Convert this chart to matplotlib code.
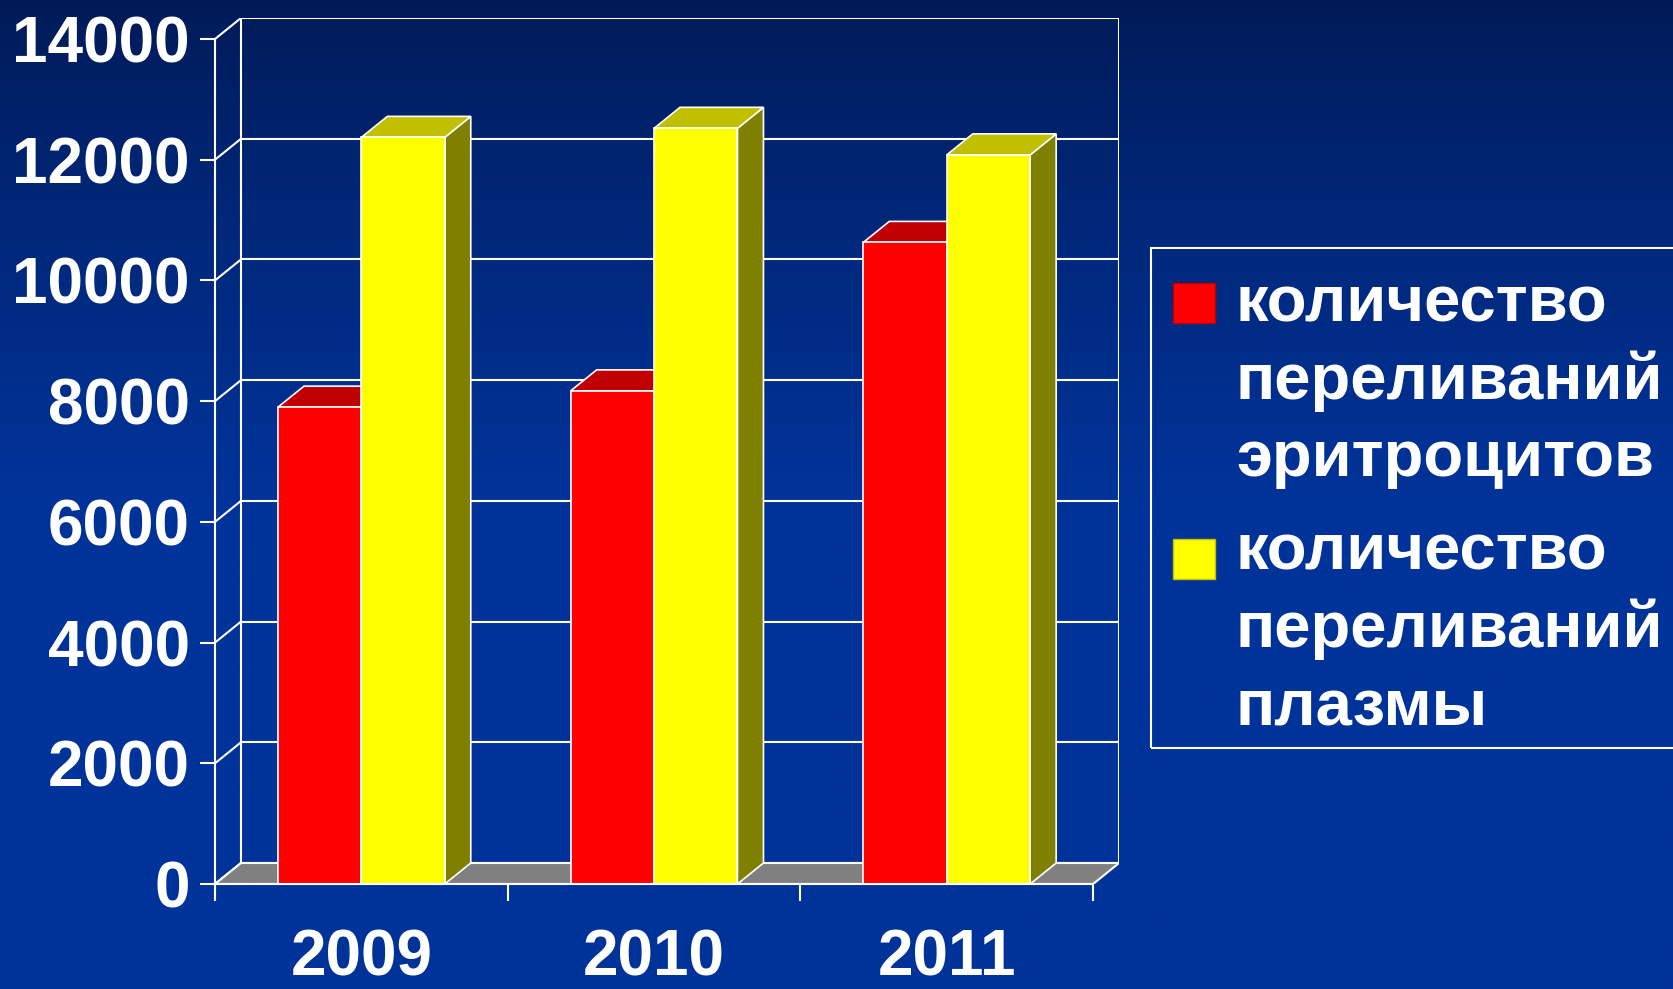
import numpy as np
import matplotlib
matplotlib.use("Agg")
import matplotlib.pyplot as plt
from matplotlib.patches import Polygon, Rectangle

plt.rcParams['font.family'] = ['Liberation Sans', 'DejaVu Sans']
plt.rcParams['font.weight'] = 'bold'

# data
years = ["2009", "2010", "2011"]
erythrocytes = [7900, 8170, 10630]
plasma = [12370, 12520, 12080]
series_labels = ["количество\nпереливаний\nэритроцитов",
                 "количество\nпереливаний\nплазмы"]
y_ticks = [0, 2000, 4000, 6000, 8000, 10000, 12000, 14000]

# colours: front, top, side
RED = ("#ff0000", "#c00000", "#800000")
YELLOW = ("#ffff00", "#c0c000", "#808000")
FLOOR = "#808080"
LINE = "white"

W, H = 1674, 989
fig = plt.figure(figsize=(W / 100, H / 100), dpi=100)

# background gradient
bg = fig.add_axes([0, 0, 1, 1], zorder=-10)
rows = np.linspace(0, 1, 400)
top = np.array([0, 26, 85]) / 255
bot = np.array([0, 51, 153]) / 255
t = np.clip(rows / 0.5, 0, 1) ** 0.8
grad = top[None, :] * (1 - t[:, None]) + bot[None, :] * t[:, None]
bg.imshow(grad[:, None, :], aspect='auto', extent=[0, 1, 0, 1], origin='upper')
bg.axis('off')

# 3D depth offset of the plot box (data units)
dx = 26 / 292.7
dy = 21 / 60.35 * 1000
ymax = 14000

ax = fig.add_axes([215 / W, (H - 884) / H, (292.7 * 3 + 26) / W, 866 / H])
ax.set_facecolor('none')
ax.set_xlim(0, 3 + dx)
ax.set_ylim(0, ymax + dy)

lw = 1.5
# floor
ax.add_patch(Polygon([(0, 0), (3, 0), (3 + dx, dy), (dx, dy)], closed=True,
                     facecolor=FLOOR, edgecolor=LINE, lw=lw, zorder=1))
# back wall gridlines and connectors to the front axis
for v in y_ticks:
    ax.plot([dx, 3 + dx], [v + dy, v + dy], color=LINE, lw=lw, zorder=0.5)
    ax.plot([0, dx], [v, v + dy], color=LINE, lw=lw, zorder=0.5,
            solid_capstyle='butt')
ax.plot([dx, dx], [dy, ymax + dy], color=LINE, lw=lw, zorder=0.5)
ax.plot([3 + dx, 3 + dx], [dy, ymax + dy], color=LINE, lw=lw, zorder=0.5)

# bars with top and side faces
width = 0.285
x = np.arange(len(years)) + 0.5


def box(x0, h, colors, z):
    front, topc, side = colors
    ax.add_patch(Polygon([(x0 + width, 0), (x0 + width + dx, dy),
                          (x0 + width + dx, h + dy), (x0 + width, h)],
                         closed=True, facecolor=side, edgecolor=LINE,
                         lw=1.2, zorder=z))
    ax.add_patch(Polygon([(x0, h), (x0 + width, h), (x0 + width + dx, h + dy),
                          (x0 + dx, h + dy)], closed=True, facecolor=topc,
                         edgecolor=LINE, lw=1.2, zorder=z))


for i in range(len(years)):
    box(x[i] - width, erythrocytes[i], RED, 2)
    box(x[i], plasma[i], YELLOW, 3)
ax.bar(x - width, erythrocytes, width, align='edge', color=RED[0],
       edgecolor=LINE, lw=1.2, zorder=2.5)
ax.bar(x, plasma, width, align='edge', color=YELLOW[0],
       edgecolor=LINE, lw=1.2, zorder=3.5)

# front axes
for s in ['top', 'right']:
    ax.spines[s].set_visible(False)
ax.spines['left'].set_bounds(0, ymax)
ax.spines['bottom'].set_bounds(0, 3)
for s in ['left', 'bottom']:
    ax.spines[s].set_color(LINE)
    ax.spines[s].set_linewidth(lw)
    ax.spines[s].set_zorder(5)

ax.set_yticks(y_ticks)
ax.set_yticklabels([str(v) for v in y_ticks])
ax.tick_params(axis='y', direction='out', length=11, width=lw, color=LINE,
               labelcolor='white', labelsize=46, pad=7)
ax.set_xticks([0, 1, 2, 3])
ax.set_xticklabels([])
ax.set_xticks(x, minor=True)
ax.set_xticklabels(years, minor=True)
ax.tick_params(axis='x', which='major', direction='out', length=12,
               width=lw, color=LINE)
ax.tick_params(axis='x', which='minor', length=0, labelcolor='white',
               labelsize=46, pad=32)

# legend
fig.patches.append(Rectangle((1151 / W, (H - 748) / H), 0.4, 500 / H,
                             transform=fig.transFigure, fill=False,
                             edgecolor=LINE, lw=lw))
square_tops = [283, 539]
baselines = [[321, 399, 476], [570, 647, 725]]
for k, (label, col) in enumerate(zip(series_labels, [RED, YELLOW])):
    fig.patches.append(Rectangle((1173 / W, (H - square_tops[k] - 40) / H),
                                 42 / W, 40 / H, transform=fig.transFigure,
                                 facecolor=col[0], edgecolor=col[1], lw=1))
    for line, b in zip(label.split("\n"), baselines[k]):
        fig.text(1236 / W, (H - b) / H, line, color='white', fontsize=47,
                 fontweight='bold', va='baseline', ha='left')

fig.savefig("out.png", dpi=100)
